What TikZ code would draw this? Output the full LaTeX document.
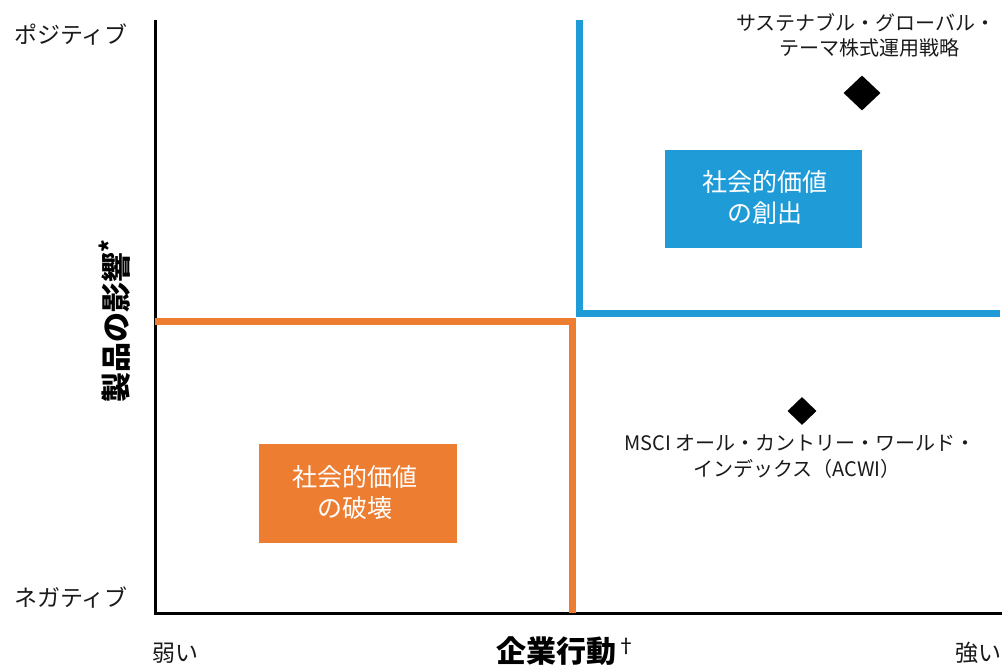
\documentclass[tikz,border=0pt]{standalone}
\usepackage{fontspec}
\setmainfont{Noto Sans CJK JP}
\usetikzlibrary{shapes.geometric}
\definecolor{qblue}{HTML}{1F9BD7}
\definecolor{qorange}{HTML}{ED7D31}
\definecolor{txt}{HTML}{1A1A1A}
\tikzset{
  lbl/.style={text=txt, inner sep=0pt, font=\fontsize{20}{25}\selectfont},
  axlbl/.style={text=txt, inner sep=0pt, font=\fontsize{23}{26}\selectfont},
  boxtxt/.style={text=white, inner sep=0pt, font=\fontsize{25}{30}\selectfont},
  mark diamond/.style={diamond, fill=black, inner sep=0pt},
  title/.style={text=black, inner sep=0pt, font=\bfseries\fontsize{30}{34}\selectfont},
}
\begin{document}
\begin{tikzpicture}[x=1pt,y=-1pt]
\useasboundingbox (0,0) rectangle (1002,666);
% axes
\coordinate (ytop) at (155,20);
\coordinate (orig) at (155,613);
\coordinate (xend) at (1002,613);
\draw[line width=3pt, black] (ytop) -- (orig) -- (xend);
% blue quadrant line
\coordinate (b1) at (579,20);
\coordinate (b2) at (579,313);
\coordinate (b3) at (1000,313);
\draw[line width=7pt, qblue] (b1) -- (b2) -- (b3);
% orange quadrant line
\coordinate (o1) at (155,321);
\coordinate (o2) at (572,321);
\coordinate (o3) at (572,613);
\draw[line width=7pt, qorange] (o1) -- (o2) -- (o3);
% boxes
\fill[qblue] (665,150) rectangle (862,248);
\node[boxtxt] (create1) at (765,182) {社会的価値};
\node[boxtxt] (create2) at (765,213) {の創出};
\fill[qorange] (259,444) rectangle (457,543);
\node[boxtxt] (destroy1) at (355,477) {社会的価値};
\node[boxtxt] (destroy2) at (355,508) {の破壊};
% diamonds
\node[mark diamond, minimum width=37pt, minimum height=35pt] (d1) at (862,93) {};
\node[mark diamond, minimum width=29pt, minimum height=28pt] (d2) at (802,411) {};
% labels
\node[lbl] (sust1) at (866,23) {サステナブル・グローバル・};
\node[lbl] (sust2) at (869,48) {テーマ株式運用戦略};
\node[lbl] (msci1) at (800,443) {MSCI オール・カントリー・ワールド・};
\node[lbl] (msci2) at (797,469) {インデックス（ACWI）};
\node[axlbl] (pos) at (71,35) {ポジティブ};
\node[axlbl] (neg) at (71,598) {ネガティブ};
\node[axlbl] (weak) at (175,653) {弱い};
\node[axlbl] (strong) at (978,653) {強い};
\node[title] (xt) at (567,651) {企業行動\textsuperscript{\normalfont\fontsize{20}{22}\selectfont †}};
\node[title, rotate=90] (yt) at (115,321) {製品の影響\textsuperscript{\fontsize{24}{26}\selectfont *}};
\end{tikzpicture}
\end{document}
